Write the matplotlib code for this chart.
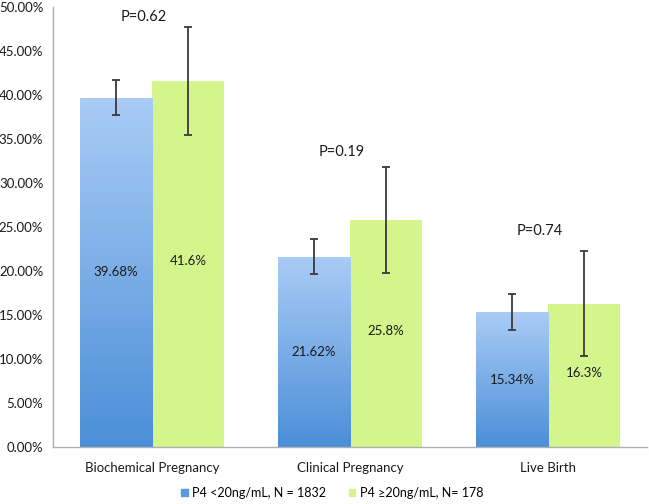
import matplotlib
matplotlib.use("Agg")
import matplotlib.pyplot as plt
import numpy as np
from matplotlib.colors import LinearSegmentedColormap
from matplotlib.patches import Patch

categories = ["Biochemical Pregnancy", "Clinical Pregnancy", "Live Birth"]
low_vals = [39.68, 21.62, 15.34]
high_vals = [41.6, 25.8, 16.3]
low_err = [2.0, 2.0, 2.0]
high_err = [6.1, 6.0, 6.0]
low_labels = ["39.68%", "21.62%", "15.34%"]
high_labels = ["41.6%", "25.8%", "16.3%"]
p_values = ["P=0.62", "P=0.19", "P=0.74"]
p_y = [48.9, 33.5, 24.6]
legend_labels = ["P4 <20ng/mL, N = 1832", "P4 \u226520ng/mL, N= 178"]
yticks = np.arange(0, 50.01, 5)

plt.rcParams['font.family'] = ['Lato', 'DejaVu Sans']
fig = plt.figure(figsize=(6.49, 5.04), dpi=100)
ax = fig.add_axes([53/649, 57/504, 594/649, 440/504])

x = np.arange(len(categories))
w = 0.366
blue_cmap = LinearSegmentedColormap.from_list("b", ["#4b8fd8", "#aaccf6"])
green = "#d3f58c"

bars_low = ax.bar(x - w/2, low_vals, w, color="none", edgecolor="none", zorder=2)
bars_high = ax.bar(x + w/2, high_vals, w, color=green, edgecolor="none", zorder=2)
grad = np.linspace(0, 1, 256).reshape(-1, 1)
for b in bars_low:
    x0 = b.get_x()
    im = ax.imshow(grad, cmap=blue_cmap, origin="lower", aspect="auto",
                   extent=[x0, x0 + b.get_width(), 0, b.get_height()], zorder=2)
    im.set_clip_path(b)

ax.errorbar(x - w/2, low_vals, yerr=low_err, fmt="none", ecolor="#3a3a3a",
            elinewidth=1.3, capsize=2.8, capthick=1.3, zorder=3)
ax.errorbar(x + w/2, high_vals, yerr=high_err, fmt="none", ecolor="#3a3a3a",
            elinewidth=1.3, capsize=2.8, capthick=1.3, zorder=3)

for i in range(len(categories)):
    ax.text(x[i] - w/2, low_vals[i]/2, low_labels[i], ha="center", va="center",
            fontsize=9.5, color="#1a1a1a", zorder=4)
    ax.text(x[i] + w/2, high_vals[i]/2 + 0.3, high_labels[i], ha="center", va="center",
            fontsize=9.5, color="#1a1a1a", zorder=4)
    ax.text(x[i] - 0.04, p_y[i], p_values[i], ha="center", va="center",
            fontsize=10.5, color="#1a1a1a", zorder=4)

ax.set_xlim(-0.5, 2.5)
ax.set_ylim(0, 50)
ax.set_yticks(yticks)
ax.set_yticklabels([f"{v:.2f}%" for v in yticks], fontsize=9.5, color="#1a1a1a")
ax.set_xticks(x)
ax.set_xticklabels(categories, fontsize=9.5, color="#1a1a1a")
ax.tick_params(axis="both", length=0, pad=7)
ax.tick_params(axis="x", pad=11)
for s in ["top", "right"]:
    ax.spines[s].set_visible(False)
for s in ["left", "bottom"]:
    ax.spines[s].set_color("#b0b0b0")
    ax.spines[s].set_linewidth(1.0)

handles = [Patch(color="#5a9be0"), Patch(color=green)]
fig.legend(handles, legend_labels, loc="center", bbox_to_anchor=(332/649, 1 - 493/504),
           ncol=2, frameon=False, fontsize=9, handlelength=0.55, handleheight=0.55,
           handletextpad=0.35, columnspacing=1.8)

fig.savefig("out.png", dpi=100)
